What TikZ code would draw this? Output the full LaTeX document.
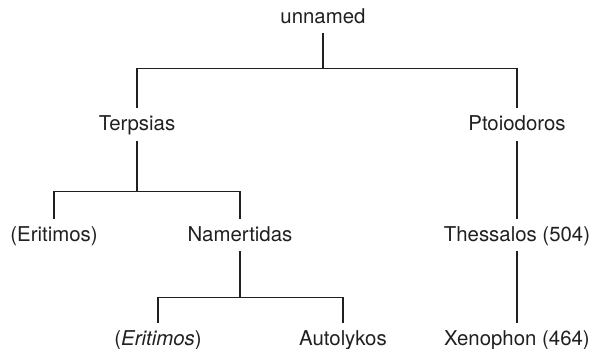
\documentclass[tikz,border=0pt]{standalone}
\usepackage{fontspec}
\setmainfont{TeX Gyre Heros}
\usetikzlibrary{positioning}
\definecolor{ink}{RGB}{35,31,32}

\begin{document}
\begin{tikzpicture}[
    on grid,
    person/.style={inner xsep=2pt, inner ysep=3.5pt, text height=7.5pt, text depth=1.5pt, font=\fontsize{10.2}{12}\selectfont, text=ink},
    link/.style={draw=ink, line width=0.8pt}
]
\useasboundingbox (-161.5pt,-166pt) rectangle (136.5pt,8.5pt);

\node[person] (unnamed) {unnamed};
\node[person, below left=53.75pt and 93pt of unnamed] (terpsias) {Terpsias};
\node[person, below right=53.75pt and 97pt of unnamed] (ptoiodoros) {Ptoiodoros};

\node[person, below left=55.25pt and 41.5pt of terpsias] (eritimos) {(Eritimos)};
\node[person, below right=55.25pt and 51.5pt of terpsias] (namertidas) {Namertidas};
\node[person, below=55.25pt of ptoiodoros] (thessalos) {Thessalos (504)};

\node[person, below left=52pt and 41pt of namertidas] (eritimosii) {(\textit{Eritimos})};
\node[person, below right=52pt and 51.5pt of namertidas] (autolykos) {Autolykos};
\node[person, below=52pt of thessalos] (xenophon) {Xenophon (464)};

% bar levels
\coordinate[below=17.5pt of unnamed.south] (bar1);
\coordinate[below=25.25pt of terpsias.south] (bar2);
\coordinate[below=23pt of namertidas.south] (bar3);

\draw[link] (unnamed.south) -- (bar1);
\draw[link] (terpsias.north) |- (bar1) -| (ptoiodoros.north);
\draw[link] (terpsias.south) -- (bar2);
\draw[link] (eritimos.north) |- (bar2) -| (namertidas.north);
\draw[link] (namertidas.south) -- (bar3);
\draw[link] (eritimosii.north) |- (bar3) -| (autolykos.north);
\draw[link] (ptoiodoros) -- (thessalos);
\draw[link] (thessalos) -- (xenophon);

\end{tikzpicture}
\end{document}
